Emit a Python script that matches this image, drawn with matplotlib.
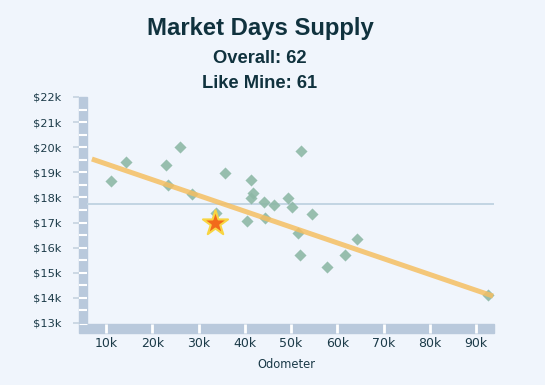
import matplotlib.pyplot as plt
from matplotlib.patches import Rectangle
import numpy as np

# odometer (thousands of miles) and price (thousands of $)
odometer = [11.0, 14.3, 23.0, 23.3, 26.0, 28.5, 33.7, 35.7, 40.4, 41.3, 41.7, 41.3,
            44.1, 44.4, 46.2, 49.3, 50.2, 51.5, 52.0, 52.2, 54.6, 57.8, 61.6, 64.2, 92.5]
price = [18.64, 19.42, 19.28, 18.49, 20.0, 18.12, 17.37, 18.97, 17.06, 18.69, 18.17, 17.98,
         17.83, 17.17, 17.69, 17.96, 17.62, 16.57, 15.69, 19.86, 17.35, 15.23, 15.69, 16.34, 14.1]
mine_odo = 33.5
mine_price = 16.97
trend_odo = [6.9, 93.7]
trend_price = [19.53, 14.07]
avg_price = 17.74
yticks = [13, 14, 15, 16, 17, 18, 19, 20, 21, 22]
xticks = [10, 20, 30, 40, 50, 60, 70, 80, 90]

bg = '#f0f5fc'
band = '#b9c9dc'
txt = '#1b3a48'

W, H = 545, 385
fig = plt.figure(figsize=(W / 100, H / 100), dpi=100, facecolor=bg)
ax = fig.add_axes([79 / W, 1 - 333 / H, (494 - 79) / W, (333 - 97) / H])
ax.set_facecolor(bg)
x0, x1 = 4.11, 93.9
y0, y1 = 12.6, 22.0
ax.set_xlim(x0, x1)
ax.set_ylim(y0, y1)
for s in ax.spines.values():
    s.set_visible(False)

# axis bands
xb = 5.84   # inner edge of vertical band
yb = 12.96  # top edge of horizontal band
ax.add_patch(Rectangle((x0, yb), xb - x0, y1 - yb, color=band, clip_on=False, zorder=1))
ax.add_patch(Rectangle((x0, y0), x1 - x0, yb - y0, color=band, clip_on=False, zorder=1))
ax.hlines(np.arange(13.5, 22, 0.5), x0, xb, colors='white', lw=1.5, zorder=1.5, clip_on=False)
ax.hlines([yb], x0, xb, colors='white', lw=0.8, zorder=1.5, clip_on=False)
ax.vlines(xticks, y0, yb, colors='white', lw=2.0, zorder=1.5, clip_on=False)

ax.hlines(avg_price, xb, x1, colors='#c2d5e3', lw=1.4, zorder=2)

ax.scatter(odometer, price, marker='D', s=38, color='#8db8a6', alpha=0.9,
           linewidths=0, zorder=3)
ax.plot(trend_odo, trend_price, color='#f5bf62', lw=3.6, alpha=0.85,
        solid_capstyle='butt', zorder=4)
ax.scatter([mine_odo], [mine_price], marker='*', s=360, color='#f26a1b',
           edgecolors='#f8d542', linewidths=1.5, zorder=5)

ax.set_yticks(yticks)
ax.set_yticklabels(['$%dk' % v for v in yticks])
ax.set_xticks(xticks)
ax.set_xticklabels(['%dk' % v for v in xticks])
ax.tick_params(axis='y', direction='out', length=4.5, width=1.2, color='#c5d3e0',
               pad=8, labelsize=8.2, labelcolor=txt)
ax.tick_params(axis='x', length=0, pad=3, labelsize=9, labelcolor=txt)
ax.set_xlabel('Odometer', fontsize=8.3, color=txt, labelpad=6)

fig.text(260 / W, 1 - 29 / H, 'Market Days Supply', ha='center', va='center',
         fontsize=17.2, fontweight='bold', family='Liberation Sans', color='#10323e')
fig.text(260 / W, 1 - 58.5 / H, 'Overall: 62', ha='center', va='center',
         fontsize=13.2, fontweight='bold', family='Liberation Sans', color='#10323e')
fig.text(260 / W, 1 - 84 / H, 'Like Mine: 61', ha='center', va='center',
         fontsize=13.2, fontweight='bold', family='Liberation Sans', color='#10323e')

fig.savefig('out.png', dpi=100, facecolor=bg)
